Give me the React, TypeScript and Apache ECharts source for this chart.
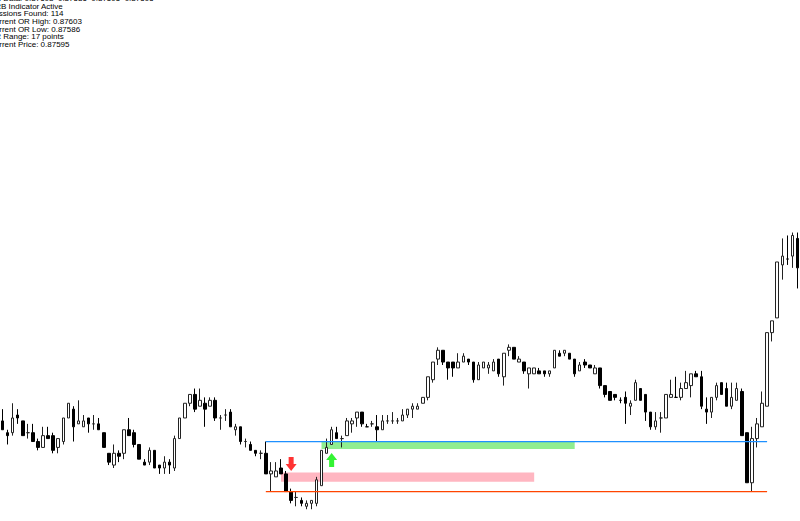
import React, { useEffect, useRef } from "react";
import * as echarts from "echarts";

// Each candle: [open, close, low, high]
const candles: number[][] = [
  [0.87610, 0.87607, 0.87607, 0.87614], [0.87606, 0.87605, 0.87602, 0.87607], [0.87606, 0.87611, 0.87605, 0.87616],
  [0.87612, 0.87611, 0.87609, 0.87614], [0.87610, 0.87605, 0.87605, 0.87610], [0.87606, 0.87606, 0.87604, 0.87609],
  [0.87606, 0.87603, 0.87603, 0.87609], [0.87603, 0.87601, 0.87600, 0.87604], [0.87601, 0.87605, 0.87601, 0.87608],
  [0.87605, 0.87604, 0.87604, 0.87608], [0.87605, 0.87600, 0.87599, 0.87606], [0.87601, 0.87604, 0.87599, 0.87604],
  [0.87603, 0.87611, 0.87602, 0.87611], [0.87611, 0.87616, 0.87611, 0.87616], [0.87614, 0.87608, 0.87603, 0.87615],
  [0.87609, 0.87610, 0.87609, 0.87617], [0.87608, 0.87610, 0.87608, 0.87612], [0.87611, 0.87609, 0.87606, 0.87611],
  [0.87609, 0.87609, 0.87607, 0.87612], [0.87609, 0.87607, 0.87607, 0.87611], [0.87606, 0.87601, 0.87601, 0.87606],
  [0.87599, 0.87596, 0.87595, 0.87599], [0.87595, 0.87599, 0.87594, 0.87602], [0.87599, 0.87598, 0.87596, 0.87600],
  [0.87599, 0.87607, 0.87597, 0.87607], [0.87607, 0.87605, 0.87605, 0.87611], [0.87606, 0.87602, 0.87601, 0.87607],
  [0.87602, 0.87597, 0.87597, 0.87602], [0.87596, 0.87595, 0.87595, 0.87597], [0.87596, 0.87600, 0.87595, 0.87601],
  [0.87600, 0.87594, 0.87594, 0.87600], [0.87595, 0.87594, 0.87592, 0.87595], [0.87594, 0.87596, 0.87592, 0.87598],
  [0.87596, 0.87595, 0.87592, 0.87597], [0.87594, 0.87604, 0.87593, 0.87605], [0.87604, 0.87611, 0.87604, 0.87611],
  [0.87611, 0.87616, 0.87611, 0.87616], [0.87616, 0.87619, 0.87615, 0.87619], [0.87619, 0.87614, 0.87613, 0.87621],
  [0.87615, 0.87617, 0.87615, 0.87621], [0.87616, 0.87614, 0.87608, 0.87618], [0.87615, 0.87617, 0.87615, 0.87618],
  [0.87617, 0.87611, 0.87610, 0.87618], [0.87611, 0.87611, 0.87607, 0.87612], [0.87612, 0.87612, 0.87610, 0.87614],
  [0.87613, 0.87608, 0.87608, 0.87614], [0.87607, 0.87608, 0.87605, 0.87609], [0.87608, 0.87603, 0.87602, 0.87608],
  [0.87603, 0.87603, 0.87601, 0.87604], [0.87602, 0.87600, 0.87600, 0.87603], [0.87600, 0.87599, 0.87598, 0.87600],
  [0.87599, 0.87599, 0.87597, 0.87600], [0.87599, 0.87592, 0.87592, 0.87603], [0.87592, 0.87593, 0.87586, 0.87596],
  [0.87591, 0.87593, 0.87591, 0.87596], [0.87594, 0.87592, 0.87592, 0.87597], [0.87592, 0.87586, 0.87586, 0.87593],
  [0.87586, 0.87583, 0.87582, 0.87587], [0.87584, 0.87584, 0.87581, 0.87586], [0.87583, 0.87582, 0.87581, 0.87584],
  [0.87581, 0.87582, 0.87580, 0.87583], [0.87582, 0.87583, 0.87580, 0.87583], [0.87582, 0.87590, 0.87581, 0.87591],
  [0.87588, 0.87600, 0.87588, 0.87600], [0.87599, 0.87601, 0.87599, 0.87604], [0.87602, 0.87607, 0.87602, 0.87608],
  [0.87606, 0.87604, 0.87604, 0.87608], [0.87604, 0.87604, 0.87601, 0.87605], [0.87605, 0.87610, 0.87605, 0.87611],
  [0.87609, 0.87610, 0.87606, 0.87611], [0.87611, 0.87613, 0.87608, 0.87613], [0.87613, 0.87609, 0.87608, 0.87613],
  [0.87608, 0.87608, 0.87608, 0.87609], [0.87609, 0.87609, 0.87608, 0.87610], [0.87608, 0.87607, 0.87603, 0.87612],
  [0.87607, 0.87610, 0.87607, 0.87612], [0.87610, 0.87610, 0.87609, 0.87612], [0.87610, 0.87610, 0.87609, 0.87613],
  [0.87610, 0.87610, 0.87609, 0.87611], [0.87610, 0.87612, 0.87610, 0.87614], [0.87612, 0.87614, 0.87611, 0.87614],
  [0.87614, 0.87615, 0.87611, 0.87616], [0.87614, 0.87615, 0.87614, 0.87616], [0.87616, 0.87618, 0.87616, 0.87618],
  [0.87618, 0.87625, 0.87617, 0.87625], [0.87624, 0.87630, 0.87623, 0.87630], [0.87631, 0.87634, 0.87629, 0.87635],
  [0.87634, 0.87630, 0.87629, 0.87634], [0.87630, 0.87628, 0.87624, 0.87630], [0.87630, 0.87628, 0.87625, 0.87630],
  [0.87628, 0.87630, 0.87628, 0.87633], [0.87630, 0.87632, 0.87630, 0.87633], [0.87631, 0.87630, 0.87629, 0.87631],
  [0.87630, 0.87624, 0.87623, 0.87630], [0.87624, 0.87629, 0.87624, 0.87630], [0.87628, 0.87630, 0.87628, 0.87630],
  [0.87628, 0.87629, 0.87626, 0.87630], [0.87627, 0.87630, 0.87627, 0.87631], [0.87631, 0.87626, 0.87625, 0.87631],
  [0.87625, 0.87633, 0.87622, 0.87633], [0.87634, 0.87635, 0.87632, 0.87636], [0.87635, 0.87631, 0.87631, 0.87635],
  [0.87630, 0.87631, 0.87630, 0.87632], [0.87630, 0.87627, 0.87626, 0.87630], [0.87626, 0.87628, 0.87621, 0.87628],
  [0.87626, 0.87628, 0.87626, 0.87628], [0.87627, 0.87626, 0.87626, 0.87628], [0.87627, 0.87626, 0.87625, 0.87627],
  [0.87626, 0.87627, 0.87625, 0.87627], [0.87628, 0.87634, 0.87628, 0.87634], [0.87633, 0.87632, 0.87632, 0.87634],
  [0.87633, 0.87634, 0.87632, 0.87634], [0.87633, 0.87631, 0.87631, 0.87633], [0.87631, 0.87626, 0.87625, 0.87631],
  [0.87627, 0.87629, 0.87627, 0.87630], [0.87630, 0.87629, 0.87628, 0.87631], [0.87629, 0.87628, 0.87628, 0.87629],
  [0.87626, 0.87628, 0.87626, 0.87629], [0.87628, 0.87622, 0.87621, 0.87628], [0.87622, 0.87619, 0.87618, 0.87622],
  [0.87620, 0.87617, 0.87617, 0.87620], [0.87619, 0.87618, 0.87617, 0.87619], [0.87617, 0.87617, 0.87616, 0.87618],
  [0.87618, 0.87616, 0.87609, 0.87620], [0.87615, 0.87616, 0.87612, 0.87617], [0.87617, 0.87623, 0.87617, 0.87624],
  [0.87621, 0.87617, 0.87617, 0.87621], [0.87619, 0.87613, 0.87610, 0.87619], [0.87613, 0.87608, 0.87607, 0.87613],
  [0.87608, 0.87610, 0.87607, 0.87613], [0.87611, 0.87611, 0.87606, 0.87613], [0.87611, 0.87619, 0.87611, 0.87619],
  [0.87618, 0.87619, 0.87618, 0.87624], [0.87618, 0.87618, 0.87618, 0.87625], [0.87618, 0.87621, 0.87617, 0.87623],
  [0.87621, 0.87623, 0.87621, 0.87627], [0.87622, 0.87626, 0.87618, 0.87626], [0.87626, 0.87625, 0.87625, 0.87627],
  [0.87625, 0.87615, 0.87614, 0.87627], [0.87614, 0.87613, 0.87609, 0.87618], [0.87613, 0.87618, 0.87611, 0.87618],
  [0.87618, 0.87622, 0.87617, 0.87623], [0.87623, 0.87619, 0.87619, 0.87623], [0.87621, 0.87615, 0.87615, 0.87623],
  [0.87615, 0.87618, 0.87614, 0.87623], [0.87617, 0.87621, 0.87617, 0.87623], [0.87620, 0.87605, 0.87605, 0.87621],
  [0.87606, 0.87589, 0.87589, 0.87606], [0.87589, 0.87604, 0.87586, 0.87608], [0.87604, 0.87609, 0.87601, 0.87611],
  [0.87608, 0.87616, 0.87608, 0.87620], [0.87615, 0.87640, 0.87615, 0.87640], [0.87640, 0.87644, 0.87637, 0.87644],
  [0.87645, 0.87664, 0.87645, 0.87664], [0.87663, 0.87666, 0.87658, 0.87672], [0.87665, 0.87665, 0.87663, 0.87673],
  [0.87666, 0.87673, 0.87662, 0.87674], [0.87672, 0.87662, 0.87655, 0.87674],
];

const categories = candles.map((_, i) => String(i));

const orHigh = 0.87603;
const orLow = 0.87586;
const orStartBar = 52;
const orEndBar = 151;

// zones: [fromBar, toBar, top, bottom]
const buyZone = [63, 113, 0.87603, 0.876005];
const sellZone = [55, 105, 0.875925, 0.875893];

// signals: [bar, price]
const sellSignal = [57, 0.875954];
const buySignal = [65, 0.875967];

const infoLines = [
  "OR Data: 0.87603  0.87586  0.87595  0.87595",
  "ORB Indicator Active",
  "Sessions Found: 114",
  "Current OR High: 0.87603",
  "Current OR Low: 0.87586",
  "OR Range: 17 points",
  "Current Price: 0.87595",
];

const yMin = 0.87576;
const yMax = 0.87753;

const DOWN_ARROW = "path://M3,0L8,0L8,7L11,7L5.5,14L0,7L3,7Z";
const UP_ARROW = "path://M5.5,0L11,7L8,7L8,14L3,14L3,7L0,7Z";

export default function App() {
  const ref = useRef<HTMLDivElement>(null);
  useEffect(() => {
    if (!ref.current) return;
    const chart = echarts.init(ref.current, undefined, { renderer: "svg" });
    chart.setOption({
      animation: false,
      backgroundColor: "#ffffff",
      grid: { left: 0, right: 0, top: 0, bottom: 0 },
      xAxis: { type: "category", data: categories, boundaryGap: true, show: false },
      yAxis: { type: "value", min: yMin, max: yMax, show: false, scale: true },
      series: [
        {
          type: "candlestick",
          data: candles,
          barWidth: 3,
          z: 2,
          itemStyle: {
            color: "#ffffff",
            color0: "#000000",
            borderColor: "#222222",
            borderColor0: "#000000",
            borderWidth: 1,
          },
          markArea: {
            silent: true,
            z: 1,
            data: [
              [
                { coord: [buyZone[0], buyZone[2]], itemStyle: { color: "#90ee90" } },
                { coord: [buyZone[1], buyZone[3]] },
              ],
              [
                { coord: [sellZone[0], sellZone[2]], itemStyle: { color: "#ffb6c1" } },
                { coord: [sellZone[1], sellZone[3]] },
              ],
            ],
          },
        },
        {
          type: "line",
          data: [[orStartBar, orHigh], [orEndBar, orHigh]],
          symbol: "none",
          z: 5,
          silent: true,
          lineStyle: { color: "#1e90ff", width: 1.2, type: "solid" },
        },
        {
          type: "line",
          data: [[orStartBar, orLow], [orEndBar, orLow]],
          symbol: "none",
          z: 5,
          silent: true,
          lineStyle: { color: "#ff4500", width: 1.2, type: "solid" },
        },
        {
          type: "scatter",
          data: [sellSignal],
          symbol: DOWN_ARROW,
          symbolSize: [11, 14],
          itemStyle: { color: "#ff0000" },
          z: 6,
          silent: true,
        },
        {
          type: "scatter",
          data: [buySignal],
          symbol: UP_ARROW,
          symbolSize: [11, 14],
          itemStyle: { color: "#00f000" },
          z: 6,
          silent: true,
        },
      ],
      graphic: infoLines.map((t, i) => ({
        type: "text",
        x: -11,
        y: -1.3 + 7.6 * i,
        silent: true,
        style: {
          text: t,
          font: '8px "Liberation Sans", Arial, sans-serif',
          fill: "#000000",
          align: "left",
          verticalAlign: "middle",
        },
      })),
    });
    return () => chart.dispose();
  }, []);
  return (
    <div
      ref={ref}
      style={{ position: "fixed", left: 0, top: 0, width: 800, height: 521, background: "#fff" }}
    />
  );
}
